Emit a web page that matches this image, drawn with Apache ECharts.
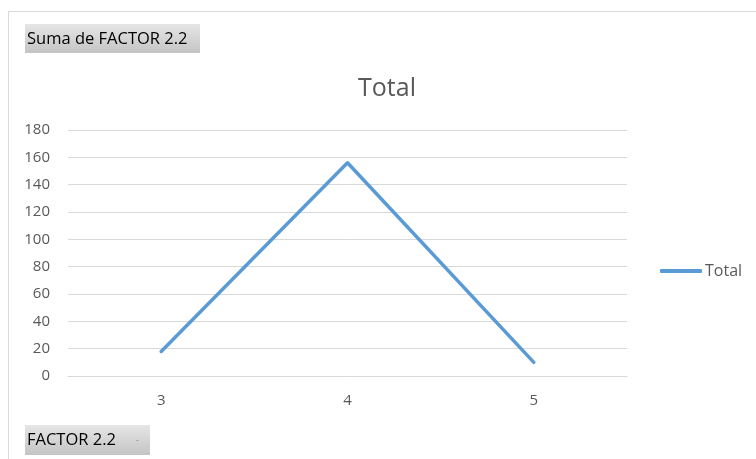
<!DOCTYPE html>
<html>
<head>
<meta charset="utf-8">
<script src="https://cdn.jsdelivr.net/npm/echarts@6/dist/echarts.min.js"></script>
<style>
  html, body { margin: 0; padding: 0; background: #ffffff; }
  #chart { width: 756px; height: 459px; }
</style>
</head>
<body>
<div id="chart"></div>
<script>
// Sum of FACTOR 2.2 per answer value
const categories = ['3', '4', '5'];
const totals = [18, 156, 10];
const yTicks = { min: 0, max: 180, interval: 20 };

const FONT = '"Open Sans", "Noto Sans", sans-serif';
const TEXT = '#595959';

const buttonFill = {
  type: 'linear', x: 0, y: 0, x2: 0, y2: 1,
  colorStops: [
    { offset: 0, color: '#e6e6e6' },
    { offset: 1, color: '#c4c4c4' }
  ]
};

const chart = echarts.init(document.getElementById('chart'), null, { renderer: 'canvas' });
chart.setOption({
  animation: false,
  backgroundColor: '#ffffff',
  title: {
    text: 'Total',
    left: 382,
    textAlign: 'center',
    top: 71,
    textStyle: { fontFamily: FONT, fontSize: 25, fontWeight: 'normal', color: TEXT }
  },
  legend: {
    data: ['Total'],
    left: 655,
    top: 258,
    itemWidth: 42,
    itemHeight: 4,
    icon: 'roundRect',
    textStyle: { fontFamily: FONT, fontSize: 16, color: TEXT, padding: [0, 0, 0, -2] }
  },
  grid: { left: 68, right: 129, top: 130, bottom: 83, containLabel: false },
  xAxis: {
    type: 'category',
    data: categories,
    boundaryGap: true,
    axisLine: { lineStyle: { color: '#d9d9d9', width: 1 } },
    axisTick: { show: false },
    axisLabel: { fontFamily: FONT, fontSize: 15, color: TEXT, margin: 17 }
  },
  yAxis: {
    type: 'value',
    min: yTicks.min,
    max: yTicks.max,
    interval: yTicks.interval,
    axisLine: { show: false },
    axisTick: { show: false },
    axisLabel: { fontFamily: FONT, fontSize: 15, color: TEXT, margin: 18 },
    splitLine: { lineStyle: { color: '#d9d9d9', width: 1 } }
  },
  series: [{
    name: 'Total',
    type: 'line',
    data: totals,
    showSymbol: false,
    symbol: 'none',
    lineStyle: { color: '#5b9bd5', width: 3.5, cap: 'round', join: 'round' },
    itemStyle: { color: '#5b9bd5' }
  }],
  graphic: [
    {
      type: 'rect',
      shape: { x: 8.5, y: 11.5, width: 800, height: 500 },
      style: { fill: 'none', stroke: '#d9d9d9', lineWidth: 1 },
      silent: true
    },
    {
      type: 'rect',
      shape: { x: 25, y: 24, width: 175, height: 29 },
      style: { fill: buttonFill },
      silent: true
    },
    {
      type: 'text',
      x: 27, y: 39,
      style: { text: 'Suma de FACTOR 2.2', fontFamily: FONT, fontSize: 16.5, fill: '#000000', verticalAlign: 'middle' },
      silent: true
    },
    {
      type: 'rect',
      shape: { x: 25, y: 425, width: 125, height: 30 },
      style: { fill: buttonFill },
      silent: true
    },
    {
      type: 'text',
      x: 27, y: 440.5,
      style: { text: 'FACTOR 2.2', fontFamily: FONT, fontSize: 16.5, fill: '#000000', verticalAlign: 'middle' },
      silent: true
    },
    {
      type: 'text',
      x: 136, y: 440,
      style: { text: '-', fontFamily: FONT, fontSize: 9, fill: '#8c8c8c', verticalAlign: 'middle' },
      silent: true
    }
  ]
});
</script>
</body>
</html>
